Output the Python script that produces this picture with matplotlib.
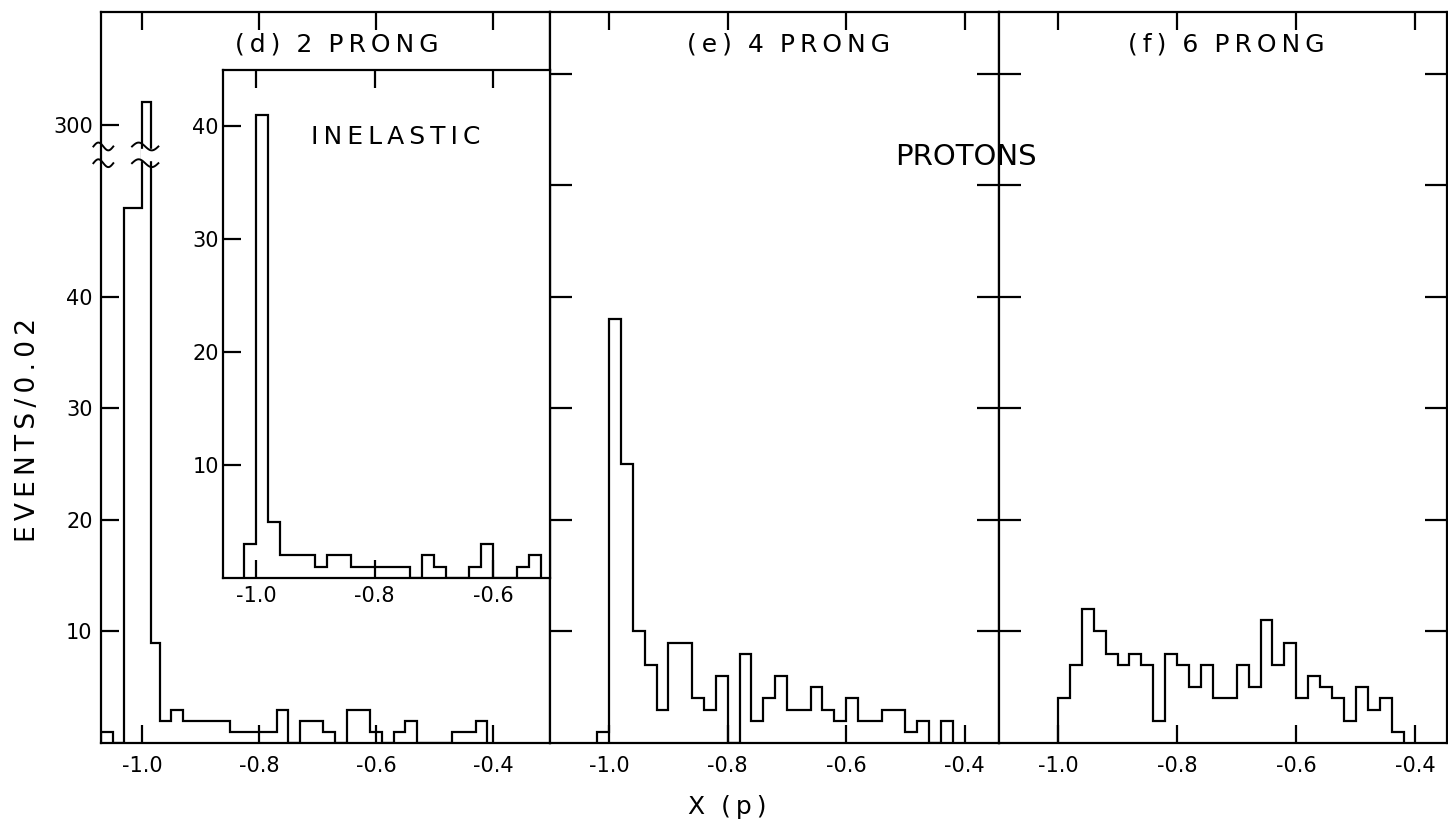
import numpy as np
import matplotlib.pyplot as plt

plt.rcParams['font.family'] = ['DejaVu Sans']
plt.rcParams['axes.unicode_minus'] = False

# (d) 2 prong, all events, the -0.99 bin is ~320 (broken axis)
d_edges = np.r_[[-1.07, -1.05, -1.03, -1.00, -0.985], np.arange(-0.97, -0.405, 0.02)]
d_counts = [1, 0, 48, 320, 9,
            2, 3, 2, 2, 2, 2, 1, 1, 1, 1, 3, 0, 2, 2, 1, 0, 3, 3, 1, 0,
            1, 2, 0, 0, 0, 1, 1, 2]

# (d) inset: inelastic 2 prong
in_edges = np.arange(-1.02, -0.515, 0.02)
in_counts = [3, 41, 5, 2, 2, 2, 1, 2, 2, 1, 1, 1, 1, 1, 0, 2, 1, 0, 0, 1,
             3, 0, 0, 1, 2]

# (e) 4 prong
e_edges = np.arange(-1.02, -0.415, 0.02)
e_counts = [1, 38, 25, 10, 7, 3, 9, 9, 4, 3, 6, 0, 8, 2, 4, 6, 3, 3, 5, 3,
            2, 4, 2, 2, 3, 3, 1, 2, 0, 2]

# (f) 6 prong
f_edges = np.arange(-1.00, -0.415, 0.02)
f_counts = [4, 7, 12, 10, 8, 7, 8, 7, 2, 8, 7, 5, 7, 4, 4, 7, 5, 11, 7, 9,
            4, 6, 5, 4, 2, 5, 3, 4, 1]

x_ticks = [-1.0, -0.8, -0.6, -0.4]
x_labels = ['-1.0', '-0.8', '-0.6', '-0.4']
inset_ticks = [-1.0, -0.8, -0.6]
inset_labels = ['-1.0', '-0.8', '-0.6']

# broken y axis in (d): linear up to the break, compressed above 300
BREAK_LO, BREAK_HI = 52.0, 53.5


def to_plot(c):
    c = np.asarray(c, dtype=float)
    return np.where(c >= 300, 55.4 + (c - 300) * 0.105, c)


def spaced(s):
    # wide lettering like the original stencil text
    return '\u2009'.join(s)


W, H = 1448, 825


def box(x0, x1, y0, y1):
    return [x0 / W, 1 - y1 / H, (x1 - x0) / W, (y1 - y0) / H]


fig = plt.figure(figsize=(W / 100, H / 100), dpi=100)
ax_d = fig.add_axes(box(101, 550, 12, 743))
ax_e = fig.add_axes(box(550, 999, 12, 743))
ax_f = fig.add_axes(box(999, 1447, 12, 743))
ax_in = fig.add_axes(box(223, 550, 70, 578))

lw = 1.6
for ax in (ax_d, ax_e, ax_f, ax_in):
    for s in ax.spines.values():
        s.set_linewidth(lw)
    ax.tick_params(direction='in', width=lw, labelsize=15, top=True,
                   length=13, pad=9)

# main panels
ax_d.stairs(to_plot(d_counts), d_edges, color='k', lw=lw)
ax_e.stairs(e_counts, e_edges, color='k', lw=lw)
ax_f.stairs(f_counts, f_edges, color='k', lw=lw)

ax_d.set_xlim(-1.07, -0.303)
ax_e.set_xlim(-1.10, -0.342)
ax_f.set_xlim(-1.099, -0.347)
for ax in (ax_d, ax_e, ax_f):
    ax.set_ylim(0, 65.56)
    ax.set_xticks(x_ticks)
    ax.set_xticklabels(x_labels)

ax_d.set_yticks(to_plot([10, 20, 30, 40, 300]))
ax_d.set_yticklabels(['10', '20', '30', '40', '300'])
ax_d.tick_params(axis='y', right=False, pad=6)

for ax in (ax_e, ax_f):
    ax.set_yticks([10, 20, 30, 40, 50, 60])
    ax.tick_params(axis='y', left=True, right=True, labelleft=False,
                   length=16)

# break marks on the peak bin and on the y axis
peak = 3
bx0, bx1 = d_edges[peak], d_edges[peak + 1]
ax_d.fill_between([bx0 - 0.002, bx1 + 0.002], BREAK_LO + 0.25, BREAK_HI - 0.25,
                  color='white', zorder=3)
for lev in (BREAK_LO, BREAK_HI):
    for xa, xb in ((bx0 - 0.017, bx1 + 0.013), (-1.083, -1.049)):
        t = np.linspace(0, 1, 40)
        xs = xa + (xb - xa) * t
        ys = lev + 0.35 * np.sin(2 * np.pi * t)
        ax_d.plot(xs, ys, color='k', lw=1.4, zorder=4, clip_on=False)

# inset
ax_in.set_facecolor('white')
ax_in.stairs(in_counts, in_edges, color='k', lw=lw)
ax_in.set_xlim(-1.0557, -0.504)
ax_in.set_ylim(0, 44.96)
ax_in.set_xticks(inset_ticks)
ax_in.set_xticklabels(inset_labels)
ax_in.set_yticks([10, 20, 30, 40])
ax_in.tick_params(axis='y', right=False, pad=3)
ax_in.tick_params(axis='x', pad=6)

# labels
for ax, name, x0 in ((ax_d, '(d)', 0.298), (ax_e, '(e)', 0.305),
                     (ax_f, '(f)', 0.288)):
    n = {'(d)': '2', '(e)': '4', '(f)': '6'}[name]
    ax.text(x0, 0.955, spaced(name) + '  ' + n + '  ' + spaced('PRONG'),
            transform=ax.transAxes, fontsize=18, ha='left', va='center')
ax_in.text(0.27, 0.868, spaced('INELASTIC'), transform=ax_in.transAxes,
           fontsize=18, ha='left', va='center')
fig.text(895 / W, 1 - 157 / H, 'PROTONS', fontsize=21, ha='left',
         va='center')
fig.text(28 / W, 1 - 430 / H, spaced('EVENTS/0.02'), rotation=90,
         fontsize=19, ha='center', va='center')
fig.text(727 / W, 1 - 807 / H, 'X  (\u2009p\u2009)', fontsize=18,
         ha='center', va='center')

fig.savefig('out.png', dpi=100)
